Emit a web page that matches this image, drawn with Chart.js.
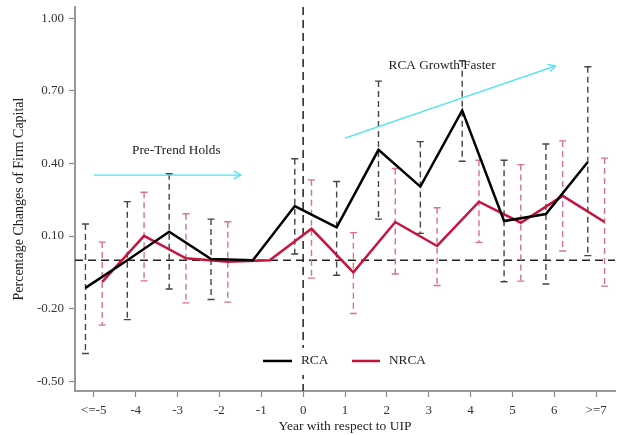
<!DOCTYPE html>
<html>
<head>
<meta charset="utf-8">
<script src="https://cdn.jsdelivr.net/npm/chart.js@4.4.1/dist/chart.umd.min.js"></script>
<style>
  html, body { margin: 0; padding: 0; background: #fff; }
  #wrap { width: 623px; height: 435px; }
</style>
</head>
<body>
<div id="wrap"><canvas id="myChart" width="623" height="435"></canvas></div>
<script>
// categories (event years) and their tick labels
const years = [-5, -4, -3, -2, -1, 0, 1, 2, 3, 4, 5, 6, 7];
const yearLabels = ['<=-5', '-4', '-3', '-2', '-1', '0', '1', '2', '3', '4', '5', '6', '>=7'];
const yTicks = [-0.5, -0.2, 0.1, 0.4, 0.7, 1.0];

// RCA estimates with confidence interval
const rca      = [-0.114, 0.000, 0.118, 0.005, 0.000, 0.224, 0.136, 0.456, 0.304, 0.619, 0.162, 0.191, 0.406];
const rcaLow   = [-0.385, -0.245, -0.119, -0.162, null, 0.026, -0.062, 0.170, 0.111, 0.409, -0.089, -0.098, 0.019];
const rcaHigh  = [0.150, 0.242, 0.357, 0.170, null, 0.419, 0.325, 0.740, 0.490, 0.824, 0.413, 0.480, 0.799];

// NRCA estimates with confidence interval
const nrca     = [-0.089, 0.101, 0.008, -0.006, 0.000, 0.130, -0.050, 0.158, 0.059, 0.242, 0.155, 0.266, 0.158];
const nrcaLow  = [-0.268, -0.085, -0.176, -0.173, null, -0.074, -0.220, -0.057, -0.104, 0.074, -0.086, 0.038, -0.107];
const nrcaHigh = [0.075, 0.281, 0.192, 0.159, null, 0.332, 0.114, 0.379, 0.217, 0.413, 0.395, 0.493, 0.422];

const FONT = '"Liberation Serif", "Times New Roman", serif';
const rcaColor = '#000000';
const nrcaColor = '#c8143c';

// error bars, reference lines, annotations and legend
const extras = {
  id: 'extras',
  beforeDatasetsDraw(chart) {
    const ctx = chart.ctx, xs = chart.scales.x, ys = chart.scales.y, a = chart.chartArea;
    ctx.save();
    // reference lines
    ctx.strokeStyle = '#222';
    ctx.lineWidth = 1.5;
    ctx.setLineDash([8, 5]);
    const y0 = ys.getPixelForValue(0);
    ctx.beginPath(); ctx.moveTo(a.left, y0); ctx.lineTo(a.right, y0); ctx.stroke();
    const x0 = xs.getPixelForValue(0);
    ctx.beginPath(); ctx.moveTo(x0, a.top); ctx.lineTo(x0, a.bottom); ctx.stroke();

    function bars(lo, hi, off, color) {
      ctx.strokeStyle = color;
      ctx.lineWidth = 1.4;
      years.forEach((yr, i) => {
        if (lo[i] == null) return;
        const px = xs.getPixelForValue(yr + off);
        const pLo = ys.getPixelForValue(lo[i]);
        const pHi = ys.getPixelForValue(hi[i]);
        ctx.setLineDash([6, 4]);
        ctx.beginPath(); ctx.moveTo(px, pHi); ctx.lineTo(px, pLo); ctx.stroke();
        ctx.setLineDash([]);
        ctx.beginPath();
        ctx.moveTo(px - 3.5, pHi); ctx.lineTo(px + 3.5, pHi);
        ctx.moveTo(px - 3.5, pLo); ctx.lineTo(px + 3.5, pLo);
        ctx.stroke();
      });
    }
    bars(rcaLow, rcaHigh, -0.2, '#444444');
    bars(nrcaLow, nrcaHigh, 0.2, '#d9708c');
    ctx.restore();
  },
  afterDatasetsDraw(chart) {
    const ctx = chart.ctx, xs = chart.scales.x, ys = chart.scales.y;
    ctx.save();
    function arrow(x1, y1, x2, y2) {
      const p1x = xs.getPixelForValue(x1), p1y = ys.getPixelForValue(y1);
      const p2x = xs.getPixelForValue(x2), p2y = ys.getPixelForValue(y2);
      ctx.strokeStyle = '#44e4f4';
      ctx.lineWidth = 1.3;
      ctx.beginPath(); ctx.moveTo(p1x, p1y); ctx.lineTo(p2x, p2y); ctx.stroke();
      const ang = Math.atan2(p2y - p1y, p2x - p1x);
      ctx.beginPath();
      ctx.moveTo(p2x - 8 * Math.cos(ang - 0.5), p2y - 8 * Math.sin(ang - 0.5));
      ctx.lineTo(p2x, p2y);
      ctx.lineTo(p2x - 8 * Math.cos(ang + 0.5), p2y - 8 * Math.sin(ang + 0.5));
      ctx.stroke();
    }
    arrow(-5.0, 0.352, -1.49, 0.352);
    arrow(1.0, 0.504, 6.03, 0.803);

    ctx.fillStyle = '#222';
    ctx.font = '13.3px ' + FONT;
    ctx.textAlign = 'center';
    ctx.textBaseline = 'middle';
    ctx.fillText('Pre-Trend Holds', xs.getPixelForValue(-3.03), ys.getPixelForValue(0.452));
    ctx.fillText('RCA Growth Faster', xs.getPixelForValue(3.32), ys.getPixelForValue(0.805));

    // legend inside the plot, on a white box
    const ly = ys.getPixelForValue(-0.416);
    ctx.fillStyle = '#fff';
    ctx.fillRect(256, ly - 13, 180, 27);
    ctx.fillStyle = '#222';
    ctx.textAlign = 'left';
    ctx.lineWidth = 2.5;
    ctx.strokeStyle = rcaColor;
    ctx.beginPath(); ctx.moveTo(263, ly); ctx.lineTo(292, ly); ctx.stroke();
    ctx.fillText('RCA', 301, ly);
    ctx.strokeStyle = nrcaColor;
    ctx.beginPath(); ctx.moveTo(352, ly); ctx.lineTo(380, ly); ctx.stroke();
    ctx.fillText('NRCA', 389, ly);
    ctx.restore();
  }
};

document.addEventListener('DOMContentLoaded', function () {
  const ctx = document.getElementById('myChart').getContext('2d');
  new Chart(ctx, {
    type: 'scatter',
    data: {
      datasets: [{
        label: 'RCA',
        data: years.map((yr, i) => ({ x: yr - 0.2, y: rca[i] })),
        showLine: true,
        borderColor: rcaColor,
        borderWidth: 2.5,
        pointRadius: 0,
        tension: 0
      }, {
        label: 'NRCA',
        data: years.map((yr, i) => ({ x: yr + 0.2, y: nrca[i] })),
        showLine: true,
        borderColor: nrcaColor,
        borderWidth: 2.5,
        pointRadius: 0,
        tension: 0
      }]
    },
    options: {
      responsive: false,
      animation: false,
      layout: { padding: { top: 7, right: 8, left: 0, bottom: 0 } },
      plugins: {
        legend: { display: false },
        tooltip: { enabled: false }
      },
      scales: {
        x: {
          type: 'linear',
          min: -5.45,
          max: 7.45,
          afterBuildTicks: (s) => { s.ticks = years.map(v => ({ value: v })); },
          afterFit: (s) => { s.height = 44; s.paddingLeft = 0; s.paddingRight = 0; },
          ticks: {
            color: '#333',
            font: { family: FONT, size: 13 },
            padding: 6,
            maxRotation: 0,
            callback: (v) => yearLabels[years.indexOf(v)]
          },
          grid: { drawOnChartArea: false, tickLength: 6, color: '#888', tickWidth: 1.2 },
          border: { color: '#999', width: 2 },
          title: {
            display: true,
            text: 'Year with respect to UIP',
            color: '#222',
            font: { family: FONT, size: 13.5 },
            padding: { top: 2, bottom: 0 }
          }
        },
        y: {
          min: -0.54,
          max: 1.046,
          afterBuildTicks: (s) => { s.ticks = yTicks.map(v => ({ value: v })); },
          afterFit: (s) => { s.width = 75; s.paddingTop = 0; s.paddingBottom = 0; },
          ticks: {
            color: '#333',
            font: { family: FONT, size: 13 },
            padding: 5,
            callback: (v) => v.toFixed(2)
          },
          grid: { drawOnChartArea: false, tickLength: 6, color: '#888', tickWidth: 1.2 },
          border: { color: '#999', width: 2 },
          title: {
            display: true,
            text: 'Percentage Changes of Firm Capital',
            color: '#222',
            font: { family: FONT, size: 14 },
            padding: { top: 11, bottom: 0 }
          }
        }
      }
    },
    plugins: [extras]
  });
});
</script>
</body>
</html>
